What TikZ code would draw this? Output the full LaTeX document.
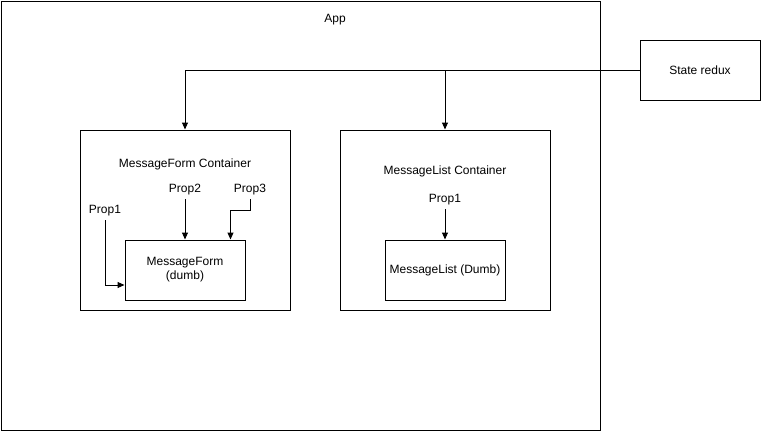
\documentclass[tikz,border=0pt]{standalone}
\usepackage{fontspec}
\setmainfont{Liberation Sans}
\usetikzlibrary{arrows.meta}
\begin{document}
\begin{tikzpicture}[x=1pt, y=-1pt, line width=1pt,
		every node/.style = {font=\fontsize{12}{14}\selectfont, align=center},
		box/.style = {shape=rectangle, draw, inner sep=0pt},
		arr/.style = {-{Triangle[length=7pt, width=6pt]}}]
	\useasboundingbox (0,0) rectangle (761,431);
	% outer app and store
	\node[box, minimum width=599pt, minimum height=429pt] (app) at (300.5,215.5) {};
	\node (applabel) at (335,20) {App};
	\node[box, minimum width=120pt, minimum height=60pt] (state) at (700,70) {State redux};
	% containers
	\node[box, minimum width=210pt, minimum height=180pt] (formc) at (185,220) {};
	\node (formclabel) at (185,164) {MessageForm Container};
	\node[box, minimum width=210pt, minimum height=180pt] (listc) at (445,220) {};
	\node (listclabel) at (445,171) {MessageList Container};
	% dumb components
	\node[box, minimum width=120pt, minimum height=60pt] (form) at (185,270) {MessageForm\\(dumb)};
	\node[box, minimum width=120pt, minimum height=60pt] (list) at (445,270) {MessageList (Dumb)};
	% props
	\node (fprop1) at (105,211) {Prop1};
	\node (fprop2) at (185,190) {Prop2};
	\node (fprop3) at (250,190) {Prop3};
	\node (lprop1) at (445,200) {Prop1};
	\coordinate (split) at (445,70);
	% connectors
	\draw[arr] (state.west) -| (formc.north);
	\draw[arr] (split) -- (listc.north);
	\draw[arr] (fprop2.south) -- (form.north);
	\draw[arr] (fprop3.south) -- ++(0,11) -| ([xshift=-15pt]form.north east);
	\draw[arr] (fprop1.south) |- ([yshift=-15pt]form.west);
	\draw[arr] (lprop1.south) -- (list.north);
\end{tikzpicture}
\end{document}
